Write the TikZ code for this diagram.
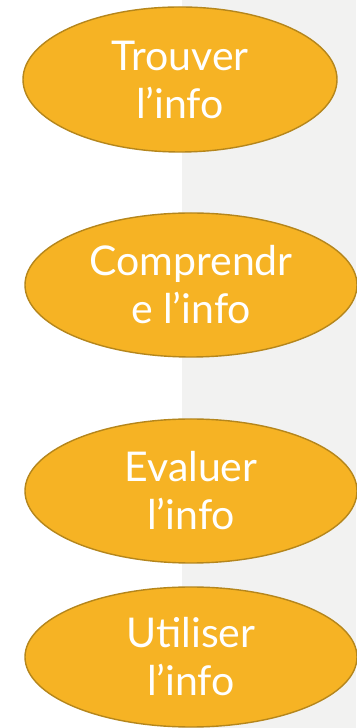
\documentclass[tikz,border=0pt]{standalone}
\usepackage{fontspec}
\setmainfont{Lato}
\usetikzlibrary{shapes.geometric}
\definecolor{gold}{HTML}{F6B324}
\definecolor{goldline}{HTML}{B5861C}
\definecolor{panel}{HTML}{F2F2F1}
\begin{document}
\begin{tikzpicture}[x=1pt,y=1pt,
  stage/.style={ellipse, draw=goldline, line width=1.4pt, fill=gold,
    inner sep=0pt, text=white, align=center,
    font=\fontsize{41}{48}\selectfont}]
\useasboundingbox (0,0) rectangle (356,728);
\fill[white] (0,0) rectangle (182,728);
\fill[panel] (182,0) rectangle (356,728);
\node[stage, minimum width=314, minimum height=145] (n1) at (180,648.5) {Trouver\\l’info};
\node[stage, minimum width=332, minimum height=144] (n2) at (191,443) {Comprendr\\e l’info};
\node[stage, minimum width=332, minimum height=144] (n3) at (191,237) {Evaluer\\l’info};
\node[stage, minimum width=332, minimum height=140] (n4) at (191,71) {Utiliser\\l’info};
\end{tikzpicture}
\end{document}
